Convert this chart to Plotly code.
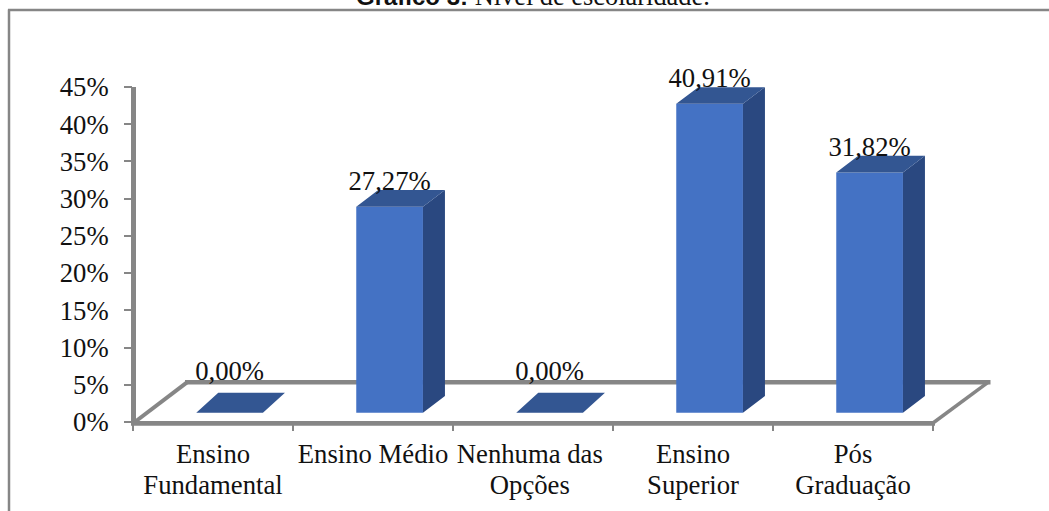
import plotly.graph_objects as go

# Survey results: highest schooling level of the respondents
categories = ["Ensino<br>Fundamental", "Ensino Médio", "Nenhuma das<br>Opções",
              "Ensino<br>Superior", "Pós<br>Graduação"]
label_slots = [0.5, 1.5, 2.48, 3.5, 4.5]
values = [0.00, 27.27, 0.00, 40.91, 31.82]
value_labels = ["0,00%", "27,27%", "0,00%", "40,91%", "31,82%"]
y_ticks = [0, 5, 10, 15, 20, 25, 30, 35, 40, 45]

W, H = 1049, 511
GREY = "#868686"
FRONT, SIDE, TOP = "#4472C4", "#2A4880", "#335692"
INK = "#111111"
SERIF = "Liberation Serif"
TEXT_SIZE = 26.7


def px(x):
    return x / W


def py(y):
    return 1 - y / H


# Plot box in pixels: left, right, top, bottom; the top leaves headroom above the 45% tick
L, R, B = 133, 997, 422
AXIS_UNIT = 7.444          # pixels per percent on the visible axis
Y_MAX = 50
T = B - Y_MAX * AXIS_UNIT
SLOT = 160                 # width of one category
PX_PER_UNIT = 7.55         # vertical scale of the bars
BAR_FLOOR = 412.7          # front edge of the bars on the oblique floor

bar_width = 66.7 / SLOT
bar_shift = 16.6 / SLOT
depth_x = 22 / SLOT
depth_y = 16.7 / PX_PER_UNIT
flat_depth_y = 20 / PX_PER_UNIT
zero_label_lift = 13 / PX_PER_UNIT
label_drop = 7 / PX_PER_UNIT

centers = [i + 0.5 + bar_shift for i in range(len(values))]

first_lines = [c.split("<br>")[0] for c in categories]
second_lines = [(c.split("<br>") + [""])[1] for c in categories]

fig = go.Figure()

# Invisible anchors so the percentage axis and the second row of labels get drawn
fig.add_trace(go.Scatter(x=[0], y=[0], mode="markers", marker=dict(opacity=0),
                         hoverinfo="skip", showlegend=False))
fig.add_trace(go.Scatter(x=[0], y=[0], mode="markers", marker=dict(opacity=0), xaxis="x2",
                         hoverinfo="skip", showlegend=False))

# Front faces
fig.add_trace(go.Bar(x=centers, y=values, width=bar_width, marker=dict(color=FRONT, line_width=0),
                     yaxis="y2", showlegend=False, hoverinfo="skip"))

# Oblique side and top faces of each column
side_x, side_y, top_x, top_y = [], [], [], []
for c, v in zip(centers, values):
    xl, xr = c - bar_width / 2, c + bar_width / 2
    rise = depth_y if v > 0 else flat_depth_y
    if v > 0:
        side_x += [xr, xr + depth_x, xr + depth_x, xr, None]
        side_y += [0, rise, v + rise, v, None]
    top_x += [xl, xr, xr + depth_x, xl + depth_x, None]
    top_y += [v, v, v + rise, v + rise, None]

for fx, fy, colour in ((side_x, side_y, SIDE), (top_x, top_y, TOP)):
    fig.add_trace(go.Scatter(x=fx, y=fy, mode="lines", fill="toself", fillcolor=colour,
                             line=dict(width=0, color=colour), yaxis="y2",
                             showlegend=False, hoverinfo="skip"))

# Value labels above the back edge of each column
label_y = [(v + depth_y if v > 0 else flat_depth_y + zero_label_lift) - label_drop for v in values]
fig.add_trace(go.Scatter(x=centers, y=label_y, mode="text", text=value_labels,
                         textposition="top center", cliponaxis=False,
                         textfont=dict(family=SERIF, size=TEXT_SIZE, color=INK),
                         yaxis="y2", showlegend=False, hoverinfo="skip"))


def rule(x0, y0, x1, y1, width=2, layer="above"):
    return dict(type="line", xref="paper", yref="paper", x0=px(x0), y0=py(y0), x1=px(x1), y1=py(y1),
                line=dict(color=GREY, width=width), layer=layer)


x_range = [0, (R - L) / SLOT]
x_font = dict(family=SERIF, size=TEXT_SIZE, color=INK)

fig.update_layout(
    width=W, height=H,
    margin=dict(l=0, r=0, t=0, b=0),
    paper_bgcolor="white", plot_bgcolor="rgba(0,0,0,0)",
    showlegend=False,
    title=dict(
        text='<span style="font-family:Liberation Sans;font-weight:bold;font-size:24px">Gráfico 3:</span> '
             'Nível de escolaridade.',
        xref="paper", yref="paper", x=px(356), xanchor="left", y=py(5), yanchor="bottom",
        automargin=False,
        font=dict(family=SERIF, size=26.4, color=INK),
    ),
    xaxis=dict(
        automargin=False,
        domain=[px(L), px(R)], range=x_range,
        tickmode="array", tickvals=label_slots, ticktext=first_lines,
        ticks="", showgrid=False, zeroline=False, showline=False,
        tickfont=x_font,
        minor=dict(tickmode="array", tickvals=list(range(len(categories) + 1)),
                   ticks="outside", ticklen=8, tickwidth=1.5, tickcolor=GREY, showgrid=False),
        ticklabelstandoff=13,
    ),
    # Second row of the wrapped category names
    xaxis2=dict(
        automargin=False, overlaying="x", side="bottom", anchor="y",
        domain=[px(L), px(R)], range=x_range,
        tickmode="array", tickvals=label_slots, ticktext=second_lines,
        ticks="", showgrid=False, zeroline=False, showline=False,
        tickfont=x_font,
        ticklabelstandoff=44,
    ),
    yaxis=dict(
        automargin=False,
        domain=[py(B), py(T)], range=[0, Y_MAX],
        tickmode="array", tickvals=y_ticks, ticktext=[f"{t}%" for t in y_ticks],
        ticks="outside", ticklen=8, tickwidth=2, tickcolor=GREY,
        showgrid=False, zeroline=False, showline=False,
        tickfont=dict(family=SERIF, size=TEXT_SIZE, color=INK),
        ticklabelstandoff=10,
    ),
    yaxis2=dict(
        automargin=False, overlaying="y", visible=False,
        range=[-(B - BAR_FLOOR) / PX_PER_UNIT, (BAR_FLOOR - T) / PX_PER_UNIT],
    ),
    shapes=[
        # Oblique floor of the chart, behind the columns
        rule(185, 382.3, 990.5, 382.3, width=4.5, layer="below"),
        rule(133.5, 423, 187, 382.3, width=4, layer="below"),
        rule(933, 423, 988, 382.3, width=3.5, layer="below"),
        rule(131, 423.3, 935, 423.3, width=4.7),
        # Value axis and outer frame
        rule(133.5, 87, 133.5, 424, width=5),
        rule(9, 9.5, 9, H, width=2.5),
        rule(8, 10, W, 10, width=2.5),
    ],
)

fig.write_html("out.html")
